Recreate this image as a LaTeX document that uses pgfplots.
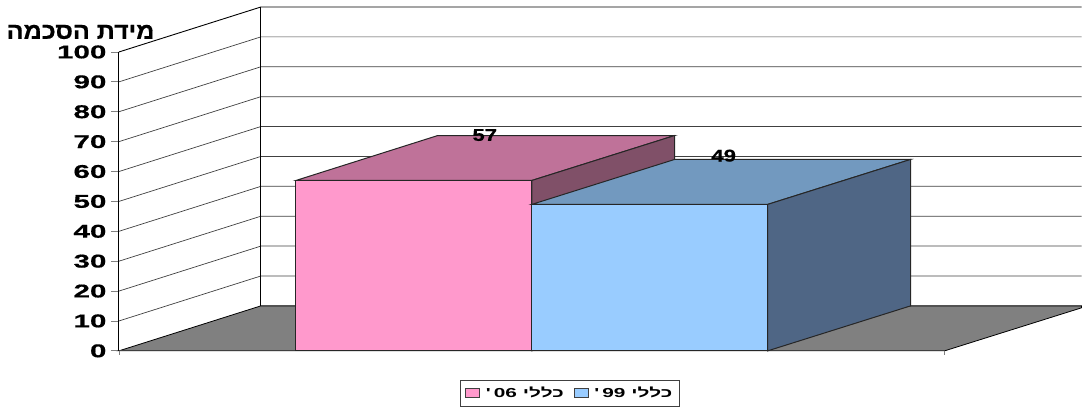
\documentclass[border=0pt]{standalone}
\usepackage{pgfplots}
\usepackage{fontspec}
\pgfplotsset{compat=1.18}
\TeXXeTstate=1
\setmainfont{Liberation Sans}
\newfontfamily\heb[Script=Hebrew,FakeBold=0.6,FakeStretch=1.09]{Liberation Sans Bold}
\newfontfamily\wideA[FakeStretch=1.6,FakeBold=0.6]{Liberation Sans Bold}
\newfontfamily\wideB[FakeStretch=1.3,FakeBold=0.6]{Liberation Sans Bold}
\newfontfamily\wideL[FakeStretch=1.6]{Liberation Sans Bold}
\newfontfamily\hebwide[Script=Hebrew,FakeStretch=1.6]{Liberation Sans Bold}
\definecolor{pinkF}{HTML}{FF99CC}
\definecolor{pinkT}{HTML}{BF7299}
\definecolor{pinkS}{HTML}{805068}
\definecolor{blueF}{HTML}{99CCFF}
\definecolor{blueT}{HTML}{7299BF}
\definecolor{blueS}{HTML}{4F6685}
\definecolor{floorG}{HTML}{808080}
\definecolor{gridG}{HTML}{404040}
\begin{document}
\begin{tikzpicture}
\begin{axis}[
  scale only axis, width=963pt, height=299pt,
  xmin=119, xmax=1082, ymin=0, ymax=100,
  clip=false,
  axis x line=none, axis y line=left,
  axis line style={-, black, line width=0.9pt},
  ytick={0,10,...,100},
  tick align=outside, major tick length=8pt,
  tick style={gray, line width=0.8pt},
  y tick label style={/pgf/number format/assume math mode=true,
     font=\wideA\fontsize{18.5}{18.5}\selectfont, xshift=-1pt},
  legend columns=2,
  legend cell align=left,
  legend image code/.code={\draw[#1, line width=0.7pt] (0pt,-4.5pt) rectangle (14pt,4.5pt);},
  legend style={at={(axis cs:570,-14.2)}, anchor=center, draw=gridG, line width=0.8pt,
     font=\wideL\fontsize{13}{14}\selectfont,
     inner xsep=5pt, inner ysep=5pt,
     /tikz/every even column/.style={column sep=8pt}},
]
% wall outlines and gridlines (front-left slope, then back wall)
\addplot[forget plot, gridG, line width=0.7pt] coordinates {(119,10) (261,25.05) (1082,25.05)};
\addplot[forget plot, gridG, line width=0.7pt] coordinates {(119,20) (261,35.05) (1082,35.05)};
\addplot[forget plot, gridG, line width=0.7pt] coordinates {(119,30) (261,45.05) (1082,45.05)};
\addplot[forget plot, gridG, line width=0.7pt] coordinates {(119,40) (261,55.05) (1082,55.05)};
\addplot[forget plot, gridG, line width=0.7pt] coordinates {(119,50) (261,65.05) (1082,65.05)};
\addplot[forget plot, gridG, line width=0.7pt] coordinates {(119,60) (261,75.05) (1082,75.05)};
\addplot[forget plot, gridG, line width=0.7pt] coordinates {(119,70) (261,85.05) (1082,85.05)};
\addplot[forget plot, gridG, line width=0.7pt] coordinates {(119,80) (261,95.05) (1082,95.05)};
\addplot[forget plot, gridG, line width=0.7pt] coordinates {(119,90) (261,105.05) (1082,105.05)};
\addplot[forget plot, black, line width=0.9pt] coordinates {(119,100) (261,115.05) (1082,115.05)};
\addplot[forget plot, black, line width=0.9pt] coordinates {(261,15.05) (261,115.05)};
% floor
\addplot[forget plot, fill=floorG, draw=black, line width=0.8pt] coordinates {(119,0) (261,15.05) (1082,15.05) (1082,15.05) (1082,14.4) (945,0)} --cycle;
\addplot[forget plot, gridG, line width=1.2pt] coordinates {(119,0) (945,0)};
\addplot[forget plot, gray, line width=0.8pt] coordinates {(119,0) (119,-1.3)};
\addplot[forget plot, gray, line width=0.8pt] coordinates {(945,0) (945,-1.3)};
% bar 1
\addplot[forget plot, fill=pinkF, draw=black!85, line width=1pt] coordinates {(296,0) (532,0) (532,57) (296,57)} --cycle;
\addplot[forget plot, fill=pinkT, draw=black!85, line width=1pt] coordinates {(296,57) (532,57) (675,72.05) (438,72.05)} --cycle;
\addplot[forget plot, fill=pinkS, draw=black!85, line width=1pt] coordinates {(532,0) (675,15.05) (675,72.05) (532,57)} --cycle;
% bar 2
\addplot[forget plot, fill=blueF, draw=black!85, line width=1pt] coordinates {(532,0) (768,0) (768,49) (532,49)} --cycle;
\addplot[forget plot, fill=blueT, draw=black!85, line width=1pt] coordinates {(532,49) (768,49) (911,64.05) (675,64.05)} --cycle;
\addplot[forget plot, fill=blueS, draw=black!85, line width=1pt] coordinates {(768,0) (911,15.05) (911,64.05) (768,49)} --cycle;
% legend
\addlegendimage{fill=pinkF, draw=gridG}
\addlegendentry{\hspace{4pt}'\kern3pt06 {\hebwide\beginR כללי\endR}}
\addlegendimage{fill=blueF, draw=gridG}
\addlegendentry{\hspace{4pt}'\kern3pt99 {\hebwide\beginR כללי\endR}}
% data labels
\node[font=\wideB\fontsize{17}{17}\selectfont] at (axis cs:485,72.2) {57};
\node[font=\wideB\fontsize{17}{17}\selectfont] at (axis cs:724,65.3) {49};
% axis title
\node[font=\heb\fontsize{23}{23}\selectfont, anchor=east] at (axis cs:158,106.7) {\beginR מידת הסכמה\endR};
% page extent
\path (axis cs:0,-19.06) rectangle (axis cs:1082,117.39);
\end{axis}
\end{tikzpicture}
\end{document}
